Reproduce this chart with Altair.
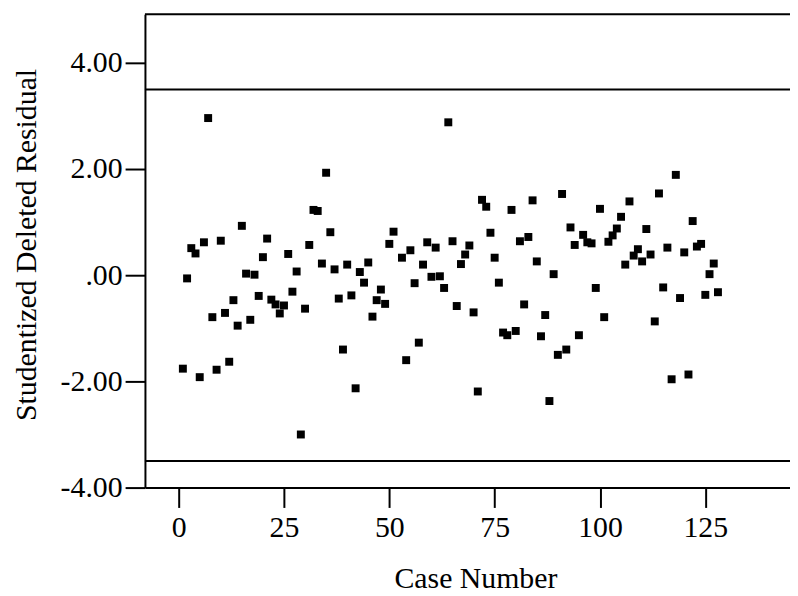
import altair as alt
import pandas as pd

# Case numbers and studentized deleted residuals
CASES = list(range(1, 52)) + list(range(53, 129))
RESIDUALS = [
    -1.76, -0.06, 0.51, 0.41, -1.92, 0.62, 2.96, -0.79, -1.78, 0.65,
    -0.71, -1.63, -0.47, -0.95, 0.93, 0.03, -0.84, 0.01, -0.39, 0.34,
    0.69, -0.46, -0.55, -0.72, -0.57, 0.40, -0.31, 0.07, -3.00, -0.63,
    0.57, 1.23, 1.21, 0.22, 1.93, 0.81, 0.11, -0.44, -1.40, 0.20,
    -0.38, -2.13, 0.06, -0.14, 0.24, -0.78, -0.47, -0.27, -0.54, 0.59,
    0.82,
    0.33, -1.60, 0.47, -0.15, -1.27, 0.20, 0.62, -0.03, 0.52,
    -0.02, -0.24, 2.88, 0.64, -0.58, 0.21, 0.39, 0.56, -0.70, -2.19,
    1.42, 1.29, 0.80, 0.33, -0.14, -1.08, -1.13, 1.23, -1.05, 0.64,
    -0.55, 0.72, 1.41, 0.26, -1.15, -0.75, -2.37, 0.02, -1.50, 1.53,
    -1.40, 0.90, 0.57, -1.13, 0.76, 0.62, 0.60, -0.24, 1.25, -0.79,
    0.63, 0.75, 0.88, 1.10, 0.20, 1.39, 0.37, 0.49, 0.26, 0.87,
    0.39, -0.87, 1.54, -0.23, 0.52, -1.96, 1.89, -0.43, 0.43, -1.87,
    1.02, 0.54, 0.59, -0.37, 0.02, 0.22, -0.32,
]
REF_LINES = [3.5, -3.5]
X_TICKS = [0, 25, 50, 75, 100, 125]
Y_TICKS = [-4, -2, 0, 2, 4]
X_DOMAIN = [-8, 145.1]
Y_DOMAIN = [-4, 4.916]

FONT = "Liberation Serif"

points_df = pd.DataFrame({"case": CASES, "res": RESIDUALS})
ref_df = pd.DataFrame({"v": REF_LINES})
top_df = pd.DataFrame({"v": [Y_DOMAIN[1]]})

x_scale = alt.Scale(domain=X_DOMAIN, nice=False, zero=False)
y_scale = alt.Scale(domain=Y_DOMAIN, nice=False, zero=False)

Y_LABEL_EXPR = (
    "datum.value == 0 ? '.00' : "
    "(datum.value < 0 ? '-' : '') + format(abs(datum.value), '.2f')"
)

points = alt.Chart(points_df).mark_square(size=64, color="black", opacity=1).encode(
    x=alt.X(
        "case:Q",
        scale=x_scale,
        axis=alt.Axis(
            values=X_TICKS,
            tickSize=20,
            labelPadding=5,
            labelFontSize=30,
            labelFlush=False,
            title="Case Number",
            titleFontSize=30,
            titleX=333,
            titleY=101,
            titleAlign="center",
            titleBaseline="alphabetic",
        ),
    ),
    y=alt.Y(
        "res:Q",
        scale=y_scale,
        axis=alt.Axis(
            values=Y_TICKS,
            labelExpr=Y_LABEL_EXPR,
            tickSize=20,
            labelPadding=3,
            labelFontSize=30,
            labelFlush=False,
            labelOverlap=False,
            title="Studentized Deleted Residual",
            titleFontSize=30,
            titleX=-110,
            titleY=232,
            titleAlign="center",
            titleBaseline="alphabetic",
        ),
    ),
)

refs = alt.Chart(ref_df).mark_rule(color="black", strokeWidth=2).encode(
    y=alt.Y("v:Q", scale=y_scale)
)
top_line = alt.Chart(top_df).mark_rule(color="black", strokeWidth=2).encode(
    y=alt.Y("v:Q", scale=y_scale)
)

chart = (
    alt.layer(top_line, refs, points)
    .properties(
        width=650,
        height=477,
        autosize=alt.AutoSizeParams(type="none"),
        padding={"left": 138, "top": 4, "right": 0, "bottom": 109},
        background="white",
    )
    .configure_view(stroke=None)
    .configure_axis(
        grid=False,
        domainColor="black",
        domainWidth=2,
        tickColor="black",
        tickWidth=2,
        labelColor="black",
        titleColor="black",
        labelFont=FONT,
        titleFont=FONT,
        titleFontWeight="normal",
    )
)

chart.save("out.html", embed_options={"renderer": "svg", "actions": False})
